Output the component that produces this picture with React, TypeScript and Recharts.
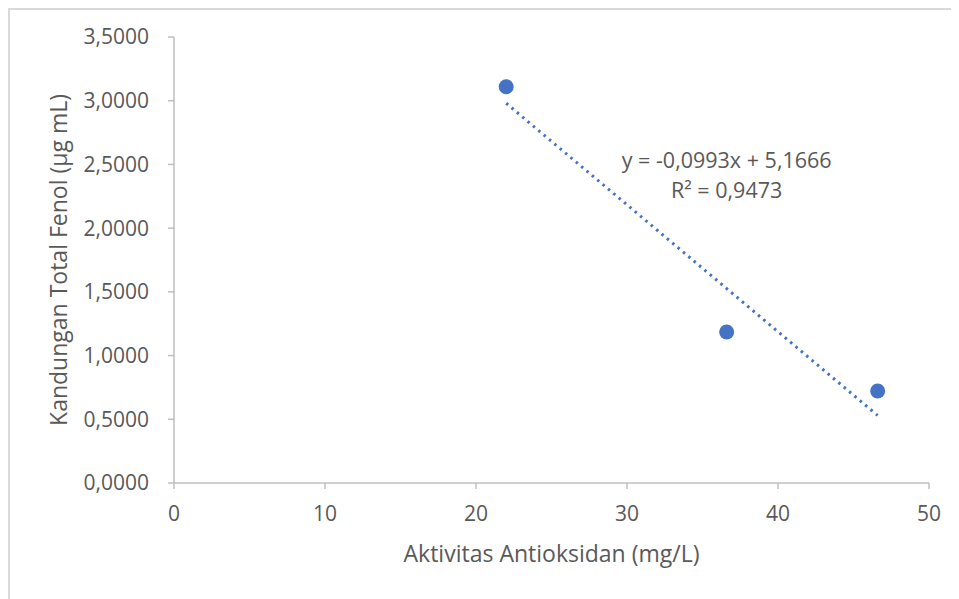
import React from "react";
import {
  ScatterChart,
  Scatter,
  XAxis,
  YAxis,
  ReferenceDot,
} from "recharts";

// measured points: antioxidant activity (mg/L) vs total phenol (µg mL)
const aktivitas = [22.0, 36.6, 46.6];
const fenol = [3.11, 1.185, 0.722];

// dotted linear trendline ends
const trendX = [22.0, 46.6];
const trendY = [2.98, 0.53];

const xTicks = [0, 10, 20, 30, 40, 50];
const yTicks = [0, 0.5, 1, 1.5, 2, 2.5, 3, 3.5];

const equation = "y = -0,0993x + 5,1666";
const rSquared = "R² = 0,9473";

const points = aktivitas.map((x, i) => ({ x, y: fenol[i] }));
const trend = trendX.map((x, i) => ({ x, y: trendY[i] }));

const FONT = "'Open Sans', 'Liberation Sans', sans-serif";
const TEXT = "#595959";
const AXIS = "#bfbfbf";
const BLUE = "#4472C4";

const fmtY = (v: number) => v.toFixed(4).replace(".", ",");

const YTitle = (props: any) => {
  const vb = props.viewBox || {};
  const cx = 48;
  const cy = vb.y + vb.height / 2;
  return (
    <text
      x={cx}
      y={cy}
      transform={`rotate(-90 ${cx} ${cy})`}
      textAnchor="middle"
      dominantBaseline="central"
      fill={TEXT}
      fontSize={23}
      fontFamily={FONT}
    >
      Kandungan Total Fenol (µg mL)
    </text>
  );
};

const EqLabel = (props: any) => {
  const vb = props.viewBox || {};
  const cx = vb.x + (vb.width || 0) / 2;
  const cy = vb.y + (vb.height || 0) / 2;
  return (
    <g fill={TEXT} fontSize={21.5} fontFamily={FONT}>
      <text x={cx} y={cy - 15} textAnchor="middle" dominantBaseline="central">
        {equation}
      </text>
      <text x={cx} y={cy + 15} textAnchor="middle" dominantBaseline="central">
        {rSquared}
      </text>
    </g>
  );
};

const App: React.FC = () => {
  return (
    <div
      style={{
        width: 949,
        height: 589,
        borderTop: "2px solid #d9d9d9",
        borderLeft: "2px solid #d9d9d9",
        background: "#fff",
      }}
    >
      <ScatterChart
        width={949}
        height={589}
        margin={{ top: 27, right: 30, left: 0, bottom: 0 }}
      >
        <XAxis
          type="number"
          dataKey="x"
          domain={[0, 50]}
          ticks={xTicks}
          interval={0}
          height={116}
          stroke={AXIS}
          strokeWidth={1.5}
          tickSize={6}
          tickMargin={17}
          tick={{ fill: TEXT, fontSize: 21, fontFamily: FONT }}
          label={{
            value: "Aktivitas Antioksidan (mg/L)",
            position: "insideBottom",
            offset: 37,
            fill: TEXT,
            fontSize: 23,
            fontFamily: FONT,
          }}
        />
        <YAxis
          type="number"
          dataKey="y"
          domain={[0, 3.5]}
          ticks={yTicks}
          interval={0}
          width={164}
          stroke={AXIS}
          strokeWidth={1.5}
          tickSize={6}
          tickMargin={19}
          tickFormatter={fmtY}
          tick={{ fill: TEXT, fontSize: 21, fontFamily: FONT }}
          label={{ content: <YTitle /> }}
        />
        <Scatter
          data={trend}
          isAnimationActive={false}
          line={{
            stroke: BLUE,
            strokeWidth: 3,
            strokeDasharray: "2.5 4.5",
          }}
          shape={() => <g />}
        />
        <Scatter
          data={points}
          fill={BLUE}
          isAnimationActive={false}
          shape={(p: any) => (
            <circle cx={p.cx} cy={p.cy} r={7.5} fill={BLUE} />
          )}
        />
        <ReferenceDot
          x={36.6}
          y={2.42}
          r={0}
          fill="none"
          stroke="none"
          label={{ content: <EqLabel /> }}
        />
      </ScatterChart>
    </div>
  );
};

export default App;
